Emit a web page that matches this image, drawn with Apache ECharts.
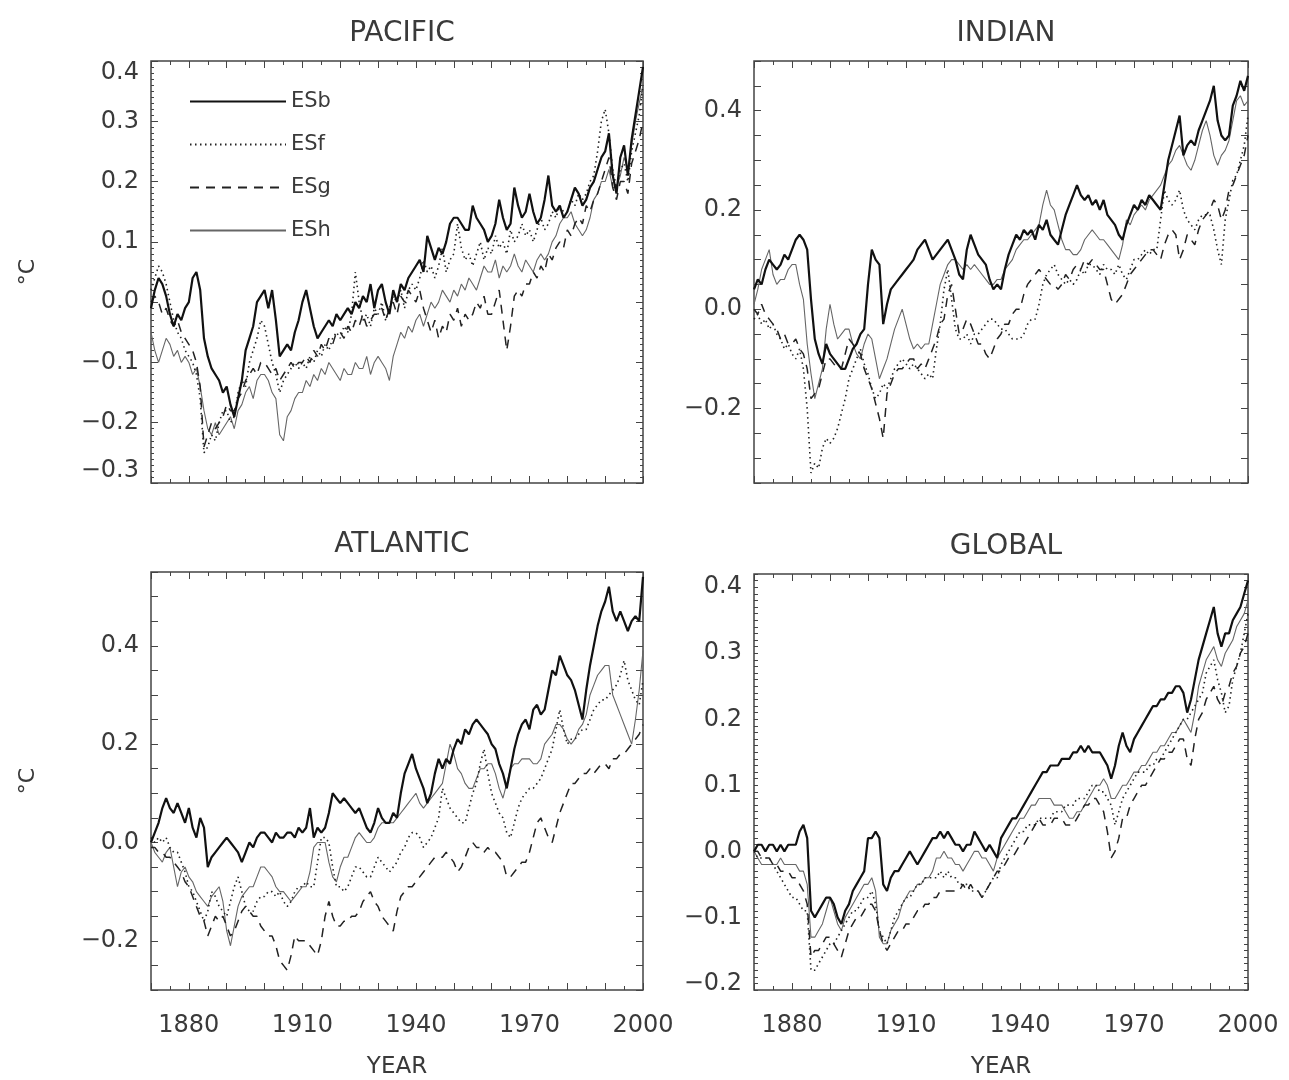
<html lang="en">
<head>
  <meta charset="UTF-8">
  <title>SST anomalies</title>
  <style>
    * { margin: 0; padding: 0; }
    body { background: #fff; }
    #main { width: 1289px; height: 1080px; }
  </style>
</head>
<body>
  <div id="main"></div>
  <script src="https://cdn.jsdelivr.net/npm/echarts@6.0.0/dist/echarts.min.js"></script>
  <script type="text/javascript">
  // years 1870 .. 2000, one value per year
  var years = [];
  for (var y = 1870; y <= 2000; y++) years.push(y);

  var names = ['ESb', 'ESf', 'ESg', 'ESh'];
  var xTicks = [1880, 1910, 1940, 1970, 2000];

  // PACIFIC
  var pacESb = [
    -0.01, 0.02, 0.04, 0.03, 0.01, -0.02, -0.04, -0.02, -0.03, -0.01,
    0.00, 0.04, 0.05, 0.02, -0.06, -0.09, -0.11, -0.12, -0.13, -0.15,
    -0.14, -0.17, -0.19, -0.16, -0.13, -0.08, -0.06, -0.04, 0.00, 0.01,
    0.02, -0.01, 0.02, -0.03, -0.09, -0.08, -0.07, -0.08, -0.05, -0.03,
    0.00, 0.02, -0.01, -0.04, -0.06, -0.05, -0.04, -0.03, -0.04, -0.02,
    -0.03, -0.02, -0.01, -0.02, 0.00, -0.01, 0.01, 0.00, 0.03, -0.01,
    0.02, 0.03, 0.00, -0.02, 0.02, 0.00, 0.03, 0.02, 0.04, 0.05,
    0.06, 0.07, 0.05, 0.11, 0.09, 0.07, 0.09, 0.08, 0.10, 0.13,
    0.14, 0.14, 0.13, 0.12, 0.12, 0.16, 0.14, 0.13, 0.12, 0.10,
    0.11, 0.13, 0.17, 0.14, 0.12, 0.13, 0.19, 0.16, 0.14, 0.15,
    0.18, 0.15, 0.13, 0.14, 0.17, 0.21, 0.16, 0.15, 0.16, 0.14,
    0.15, 0.17, 0.19, 0.18, 0.16, 0.17, 0.19, 0.20, 0.22, 0.24,
    0.25, 0.28, 0.21, 0.18, 0.24, 0.26, 0.21, 0.27, 0.31, 0.35,
    0.39
  ];
  var pacESf = [
    0.02, 0.04, 0.06, 0.05, 0.03, 0.00, -0.03, -0.05, -0.06, -0.08,
    -0.09, -0.10, -0.12, -0.16, -0.25, -0.24, -0.22, -0.23, -0.20, -0.18,
    -0.18, -0.20, -0.19, -0.15, -0.13, -0.14, -0.10, -0.08, -0.06, -0.03,
    -0.04, -0.07, -0.10, -0.12, -0.15, -0.13, -0.12, -0.11, -0.10, -0.11,
    -0.10, -0.11, -0.09, -0.10, -0.08, -0.09, -0.07, -0.08, -0.06, -0.05,
    -0.06, -0.04, -0.05, -0.02, 0.05, 0.00, -0.03, -0.02, -0.04, -0.01,
    -0.02, 0.00, -0.03, -0.01, 0.01, 0.00, 0.02, -0.01, 0.02, 0.03,
    0.02, 0.04, 0.07, 0.05, 0.06, 0.04, 0.06, 0.09, 0.05, 0.07,
    0.08, 0.13, 0.09, 0.07, 0.08, 0.06, 0.08, 0.10, 0.07, 0.09,
    0.08, 0.11, 0.09, 0.10, 0.08, 0.12, 0.10, 0.11, 0.13, 0.11,
    0.12, 0.10, 0.12, 0.14, 0.12, 0.13, 0.15, 0.14, 0.16, 0.15,
    0.15, 0.17, 0.16, 0.18, 0.17, 0.18, 0.20, 0.21, 0.25, 0.30,
    0.32, 0.28, 0.22, 0.19, 0.22, 0.23, 0.20, 0.25, 0.28, 0.31,
    0.36
  ];
  var pacESg = [
    0.00, 0.01, 0.00, -0.02, -0.01, -0.03, -0.04, -0.03, -0.05, -0.06,
    -0.07, -0.08, -0.10, -0.14, -0.24, -0.22, -0.20, -0.21, -0.20, -0.19,
    -0.17, -0.18, -0.18, -0.16, -0.15, -0.13, -0.12, -0.11, -0.12, -0.10,
    -0.10, -0.11, -0.12, -0.11, -0.13, -0.12, -0.11, -0.10, -0.11, -0.10,
    -0.10, -0.09, -0.10, -0.08, -0.09, -0.07, -0.08, -0.06, -0.07, -0.05,
    -0.05, -0.06, -0.04, -0.05, -0.03, -0.04, -0.02, -0.04, -0.03, -0.02,
    -0.02, -0.01, -0.03, -0.01, 0.00, -0.02, 0.01, 0.00, 0.02, 0.01,
    0.00, 0.02, -0.01, -0.03, -0.05, -0.03, -0.06, -0.04, -0.05, -0.02,
    -0.03, -0.01, -0.04, -0.02, -0.03, -0.02, 0.00, -0.01, 0.01, -0.02,
    -0.02, 0.00, 0.02, -0.03, -0.08, -0.04, 0.01, 0.02, 0.01, 0.03,
    0.03, 0.05, 0.04, 0.06, 0.05, 0.08, 0.07, 0.09, 0.10, 0.09,
    0.12, 0.11, 0.13, 0.14, 0.13, 0.16, 0.15, 0.17, 0.18, 0.20,
    0.22, 0.24, 0.19, 0.17, 0.20, 0.20, 0.18, 0.23, 0.25, 0.27,
    0.30
  ];
  var pacESh = [
    -0.05, -0.08, -0.10, -0.08, -0.06, -0.07, -0.09, -0.08, -0.10, -0.09,
    -0.10, -0.12, -0.11, -0.14, -0.18, -0.21, -0.22, -0.20, -0.22, -0.21,
    -0.20, -0.19, -0.21, -0.18, -0.17, -0.15, -0.14, -0.16, -0.13, -0.12,
    -0.12, -0.13, -0.15, -0.16, -0.22, -0.23, -0.19, -0.18, -0.16, -0.15,
    -0.15, -0.13, -0.14, -0.12, -0.13, -0.11, -0.12, -0.10, -0.11, -0.12,
    -0.13, -0.11, -0.12, -0.12, -0.10, -0.11, -0.11, -0.09, -0.12, -0.10,
    -0.09, -0.10, -0.11, -0.13, -0.09, -0.07, -0.05, -0.06, -0.04, -0.05,
    -0.03, -0.02, -0.04, -0.02, 0.00, -0.01, 0.00, 0.02, 0.01, 0.00,
    0.02, 0.01, 0.03, 0.02, 0.04, 0.03, 0.02, 0.04, 0.06, 0.05,
    0.05, 0.07, 0.04, 0.06, 0.05, 0.06, 0.08, 0.06, 0.05, 0.07,
    0.06, 0.05, 0.07, 0.08, 0.07, 0.08, 0.10, 0.11, 0.13, 0.14,
    0.14, 0.15, 0.13, 0.12, 0.11, 0.12, 0.14, 0.17, 0.18, 0.20,
    0.20, 0.22, 0.19, 0.19, 0.21, 0.24, 0.22, 0.26, 0.30, 0.33,
    0.36
  ];

  // INDIAN
  var indESb = [
    0.04, 0.06, 0.05, 0.08, 0.10, 0.09, 0.08, 0.09, 0.11, 0.10,
    0.12, 0.14, 0.15, 0.14, 0.12, 0.02, -0.06, -0.09, -0.11, -0.07,
    -0.09, -0.10, -0.11, -0.12, -0.12, -0.10, -0.08, -0.07, -0.05, -0.04,
    0.05, 0.12, 0.10, 0.09, -0.03, 0.01, 0.04, 0.05, 0.06, 0.07,
    0.08, 0.09, 0.10, 0.12, 0.13, 0.14, 0.12, 0.10, 0.11, 0.12,
    0.13, 0.14, 0.12, 0.10, 0.07, 0.06, 0.12, 0.15, 0.13, 0.11,
    0.10, 0.09, 0.06, 0.04, 0.05, 0.04, 0.08, 0.11, 0.13, 0.15,
    0.14, 0.16, 0.15, 0.16, 0.14, 0.17, 0.16, 0.18, 0.15, 0.14,
    0.13, 0.16, 0.19, 0.21, 0.23, 0.25, 0.23, 0.22, 0.23, 0.21,
    0.22, 0.20, 0.22, 0.19, 0.18, 0.17, 0.15, 0.14, 0.17, 0.19,
    0.21, 0.20, 0.22, 0.21, 0.23, 0.22, 0.21, 0.20, 0.25, 0.30,
    0.33, 0.36, 0.39, 0.31, 0.33, 0.34, 0.33, 0.36, 0.38, 0.40,
    0.42, 0.45, 0.38, 0.35, 0.34, 0.35, 0.41, 0.43, 0.46, 0.44,
    0.47
  ];
  var indESf = [
    -0.02, -0.01, -0.03, -0.02, -0.04, -0.03, -0.05, -0.06, -0.08, -0.07,
    -0.09, -0.10, -0.08, -0.12, -0.20, -0.33, -0.31, -0.32, -0.28, -0.26,
    -0.27, -0.26, -0.24, -0.21, -0.18, -0.14, -0.12, -0.10, -0.08, -0.11,
    -0.13, -0.16, -0.18, -0.17, -0.15, -0.16, -0.14, -0.12, -0.11, -0.10,
    -0.11, -0.12, -0.11, -0.12, -0.13, -0.14, -0.13, -0.14, -0.08, -0.03,
    0.04, 0.08, 0.02, -0.04, -0.06, -0.06, -0.05, -0.07, -0.05, -0.05,
    -0.04, -0.03, -0.02, -0.02, -0.03, -0.04, -0.04, -0.05, -0.06, -0.06,
    -0.06, -0.05, -0.03, -0.02, -0.02, 0.01, 0.05, 0.07, 0.08, 0.09,
    0.07, 0.06, 0.05, 0.06, 0.05, 0.06, 0.08, 0.07, 0.09, 0.09,
    0.08, 0.07, 0.09, 0.08, 0.08, 0.07, 0.09, 0.07, 0.06, 0.08,
    0.10, 0.10, 0.11, 0.12, 0.11, 0.12, 0.12, 0.18, 0.24, 0.22,
    0.21, 0.22, 0.24, 0.20, 0.18, 0.17, 0.16, 0.18, 0.19, 0.19,
    0.19, 0.16, 0.12, 0.09, 0.18, 0.22, 0.26, 0.27, 0.30, 0.33,
    0.39
  ];
  var indESg = [
    0.00, -0.01, 0.01, -0.01, -0.02, -0.03, -0.04, -0.06, -0.05, -0.07,
    -0.07, -0.06, -0.08, -0.09, -0.12, -0.18, -0.17, -0.16, -0.13, -0.10,
    -0.10, -0.11, -0.12, -0.12, -0.09, -0.06, -0.07, -0.08, -0.09, -0.12,
    -0.14, -0.16, -0.19, -0.22, -0.26, -0.17, -0.15, -0.13, -0.12, -0.12,
    -0.11, -0.10, -0.10, -0.12, -0.11, -0.12, -0.10, -0.08, -0.06, -0.03,
    -0.02, 0.03, 0.05, 0.00, -0.05, -0.04, -0.02, -0.03, -0.05, -0.07,
    -0.07, -0.09, -0.10, -0.08, -0.06, -0.05, -0.03, -0.03, -0.01, 0.00,
    0.00, 0.03, 0.05, 0.06, 0.07, 0.08, 0.07, 0.06, 0.05, 0.05,
    0.04, 0.05, 0.07, 0.06, 0.08, 0.09, 0.08, 0.10, 0.09, 0.10,
    0.09, 0.08, 0.08, 0.05, 0.02, 0.01, 0.02, 0.03, 0.05, 0.07,
    0.08, 0.09, 0.10, 0.11, 0.12, 0.12, 0.11, 0.10, 0.13, 0.15,
    0.16, 0.15, 0.10, 0.12, 0.15, 0.14, 0.13, 0.16, 0.18, 0.19,
    0.20, 0.22, 0.21, 0.18, 0.20, 0.24, 0.25, 0.27, 0.29, 0.31,
    0.35
  ];
  var indESh = [
    0.01, 0.04, 0.08, 0.10, 0.12, 0.07, 0.05, 0.06, 0.06, 0.08,
    0.09, 0.09, 0.05, 0.02, -0.07, -0.13, -0.18, -0.15, -0.12, -0.04,
    0.01, -0.03, -0.06, -0.05, -0.04, -0.04, -0.07, -0.09, -0.10, -0.07,
    -0.05, -0.06, -0.10, -0.14, -0.12, -0.10, -0.07, -0.04, -0.02, 0.00,
    -0.03, -0.06, -0.08, -0.07, -0.08, -0.07, -0.07, -0.03, 0.01, 0.05,
    0.07, 0.09, 0.10, 0.10, 0.09, 0.08, 0.09, 0.08, 0.09, 0.08,
    0.07, 0.06, 0.05, 0.05, 0.06, 0.06, 0.08, 0.09, 0.10, 0.12,
    0.13, 0.14, 0.14, 0.15, 0.16, 0.17, 0.21, 0.24, 0.21, 0.20,
    0.17, 0.14, 0.12, 0.12, 0.11, 0.11, 0.12, 0.14, 0.15, 0.16,
    0.15, 0.14, 0.14, 0.13, 0.12, 0.11, 0.10, 0.13, 0.18, 0.17,
    0.19, 0.20, 0.21, 0.20, 0.22, 0.23, 0.24, 0.25, 0.27, 0.29,
    0.30, 0.32, 0.33, 0.31, 0.29, 0.28, 0.30, 0.33, 0.36, 0.38,
    0.35, 0.31, 0.29, 0.31, 0.32, 0.34, 0.38, 0.42, 0.43, 0.41,
    0.42
  ];

  // ATLANTIC
  var atlESb = [
    0.00, 0.02, 0.04, 0.07, 0.09, 0.07, 0.06, 0.08, 0.06, 0.04,
    0.07, 0.03, 0.01, 0.05, 0.03, -0.05, -0.03, -0.02, -0.01, 0.00,
    0.01, 0.00, -0.01, -0.02, -0.04, -0.02, 0.00, -0.01, 0.01, 0.02,
    0.02, 0.01, 0.00, 0.02, 0.01, 0.01, 0.02, 0.02, 0.01, 0.03,
    0.02, 0.03, 0.07, 0.01, 0.03, 0.02, 0.03, 0.06, 0.10, 0.09,
    0.08, 0.09, 0.08, 0.07, 0.06, 0.07, 0.05, 0.03, 0.02, 0.04,
    0.07, 0.05, 0.04, 0.04, 0.06, 0.05, 0.10, 0.14, 0.16, 0.18,
    0.15, 0.13, 0.11, 0.08, 0.10, 0.14, 0.17, 0.15, 0.17, 0.16,
    0.19, 0.21, 0.20, 0.23, 0.22, 0.24, 0.25, 0.24, 0.23, 0.22,
    0.20, 0.19, 0.16, 0.14, 0.11, 0.15, 0.19, 0.22, 0.24, 0.25,
    0.23, 0.27, 0.28, 0.26, 0.27, 0.31, 0.35, 0.34, 0.38, 0.36,
    0.34, 0.33, 0.31, 0.28, 0.25, 0.31, 0.36, 0.40, 0.44, 0.47,
    0.49, 0.52, 0.47, 0.45, 0.47, 0.45, 0.43, 0.45, 0.46, 0.45,
    0.54
  ];
  var atlESf = [
    0.01, 0.00, 0.01, 0.00, 0.01, -0.01, -0.02, -0.02, -0.04, -0.06,
    -0.09, -0.10, -0.12, -0.14, -0.16, -0.14, -0.10, -0.11, -0.13, -0.14,
    -0.15, -0.12, -0.09, -0.07, -0.10, -0.13, -0.14, -0.14, -0.12, -0.11,
    -0.11, -0.10, -0.10, -0.11, -0.10, -0.12, -0.13, -0.12, -0.10, -0.09,
    -0.09, -0.08, -0.09, -0.09, -0.04, 0.01, 0.01, 0.00, -0.05, -0.09,
    -0.09, -0.10, -0.09, -0.07, -0.05, -0.05, -0.06, -0.07, -0.07, -0.05,
    -0.03, -0.04, -0.05, -0.06, -0.05, -0.04, -0.02, -0.01, 0.01, 0.02,
    0.02, 0.01, -0.01, 0.00, 0.01, 0.03, 0.05, 0.11, 0.09, 0.07,
    0.06, 0.05, 0.04, 0.04, 0.07, 0.10, 0.12, 0.16, 0.19, 0.14,
    0.10, 0.08, 0.06, 0.05, 0.02, 0.01, 0.04, 0.07, 0.09, 0.10,
    0.11, 0.11, 0.12, 0.13, 0.15, 0.17, 0.19, 0.23, 0.27, 0.23,
    0.20, 0.21, 0.21, 0.22, 0.23, 0.23, 0.25, 0.27, 0.28, 0.29,
    0.29, 0.30, 0.31, 0.32, 0.34, 0.37, 0.33, 0.31, 0.29, 0.28,
    0.33
  ];
  var atlESg = [
    -0.01, -0.01, -0.02, -0.02, -0.03, -0.03, -0.04, -0.05, -0.06, -0.08,
    -0.09, -0.11, -0.13, -0.15, -0.16, -0.19, -0.17, -0.15, -0.16, -0.15,
    -0.17, -0.19, -0.18, -0.16, -0.14, -0.13, -0.14, -0.15, -0.15, -0.17,
    -0.18, -0.19, -0.19, -0.21, -0.24, -0.25, -0.26, -0.23, -0.19, -0.20,
    -0.20, -0.20, -0.21, -0.22, -0.23, -0.20, -0.15, -0.12, -0.15, -0.17,
    -0.17, -0.16, -0.16, -0.15, -0.15, -0.14, -0.12, -0.11, -0.10, -0.12,
    -0.13, -0.15, -0.16, -0.17, -0.18, -0.14, -0.11, -0.10, -0.09, -0.09,
    -0.08, -0.07, -0.06, -0.05, -0.04, -0.03, -0.03, -0.03, -0.02, -0.03,
    -0.04, -0.06, -0.05, -0.03, -0.01, 0.00, -0.01, -0.01, -0.02, -0.01,
    -0.02, -0.02, -0.03, -0.04, -0.07, -0.07, -0.06, -0.05, -0.04, -0.04,
    -0.02, 0.01, 0.04, 0.05, 0.03, 0.01, 0.00, 0.03, 0.06, 0.08,
    0.10, 0.12, 0.12, 0.13, 0.14, 0.14, 0.15, 0.14, 0.15, 0.16,
    0.16, 0.15, 0.17, 0.17, 0.18, 0.18, 0.19, 0.20, 0.21, 0.22,
    0.24
  ];
  var atlESh = [
    0.00, -0.02, -0.03, -0.04, -0.02, -0.01, -0.05, -0.09, -0.06, -0.05,
    -0.07, -0.08, -0.10, -0.11, -0.12, -0.13, -0.11, -0.10, -0.09, -0.12,
    -0.18, -0.21, -0.17, -0.13, -0.11, -0.10, -0.09, -0.09, -0.07, -0.05,
    -0.05, -0.06, -0.07, -0.09, -0.10, -0.10, -0.11, -0.12, -0.11, -0.10,
    -0.09, -0.09, -0.06, -0.01, 0.00, 0.00, 0.00, -0.04, -0.07, -0.08,
    -0.05, -0.03, -0.03, -0.01, 0.01, 0.02, 0.01, 0.00, 0.00, 0.01,
    0.03, 0.04, 0.04, 0.04, 0.04, 0.05, 0.06, 0.07, 0.08, 0.09,
    0.10, 0.08, 0.07, 0.08, 0.09, 0.10, 0.11, 0.12, 0.16, 0.20,
    0.18, 0.15, 0.14, 0.12, 0.11, 0.11, 0.13, 0.15, 0.15, 0.16,
    0.16, 0.14, 0.11, 0.09, 0.12, 0.15, 0.16, 0.16, 0.17, 0.17,
    0.17, 0.16, 0.16, 0.17, 0.20, 0.21, 0.22, 0.24, 0.24, 0.23,
    0.21, 0.20, 0.21, 0.23, 0.24, 0.26, 0.30, 0.32, 0.34, 0.35,
    0.36, 0.36, 0.30, 0.28, 0.26, 0.24, 0.22, 0.20, 0.25, 0.31,
    0.39
  ];

  // GLOBAL
  var gloESb = [
    0.00, 0.01, 0.01, 0.00, 0.01, 0.01, 0.00, 0.01, 0.00, 0.01,
    0.01, 0.01, 0.03, 0.04, 0.02, -0.09, -0.10, -0.09, -0.08, -0.07,
    -0.07, -0.08, -0.10, -0.11, -0.09, -0.08, -0.06, -0.05, -0.04, -0.03,
    0.02, 0.02, 0.03, 0.02, -0.05, -0.06, -0.04, -0.03, -0.03, -0.02,
    -0.01, 0.00, -0.01, -0.02, -0.01, 0.00, 0.01, 0.02, 0.02, 0.03,
    0.02, 0.03, 0.02, 0.01, 0.01, 0.00, 0.01, 0.01, 0.03, 0.02,
    0.01, 0.00, 0.01, 0.00, -0.01, 0.02, 0.03, 0.04, 0.05, 0.05,
    0.06, 0.07, 0.08, 0.09, 0.10, 0.11, 0.12, 0.12, 0.13, 0.13,
    0.13, 0.14, 0.14, 0.14, 0.15, 0.15, 0.16, 0.15, 0.16, 0.15,
    0.15, 0.15, 0.14, 0.13, 0.11, 0.13, 0.16, 0.18, 0.16, 0.15,
    0.17, 0.18, 0.19, 0.20, 0.21, 0.22, 0.22, 0.23, 0.23, 0.24,
    0.24, 0.25, 0.25, 0.24, 0.21, 0.23, 0.26, 0.29, 0.31, 0.33,
    0.35, 0.37, 0.33, 0.31, 0.33, 0.33, 0.35, 0.36, 0.37, 0.39,
    0.41
  ];
  var gloESf = [
    0.00, -0.01, -0.01, -0.01, -0.01, -0.02, -0.03, -0.04, -0.05, -0.06,
    -0.07, -0.07, -0.08, -0.09, -0.09, -0.18, -0.18, -0.17, -0.16, -0.15,
    -0.14, -0.14, -0.13, -0.12, -0.11, -0.10, -0.09, -0.09, -0.08, -0.07,
    -0.07, -0.06, -0.08, -0.12, -0.13, -0.14, -0.12, -0.10, -0.09, -0.08,
    -0.07, -0.07, -0.06, -0.05, -0.05, -0.04, -0.04, -0.04, -0.04, -0.03,
    -0.04, -0.03, -0.04, -0.04, -0.05, -0.05, -0.05, -0.06, -0.06, -0.06,
    -0.07, -0.06, -0.05, -0.04, -0.04, -0.02, -0.01, 0.00, 0.01, 0.02,
    0.03, 0.03, 0.04, 0.04, 0.04, 0.05, 0.05, 0.05, 0.05, 0.06,
    0.06, 0.06, 0.07, 0.07, 0.07, 0.08, 0.08, 0.08, 0.09, 0.10,
    0.10, 0.09, 0.09, 0.08, 0.07, 0.04, 0.06, 0.08, 0.09, 0.10,
    0.11, 0.12, 0.12, 0.12, 0.13, 0.13, 0.14, 0.14, 0.15, 0.16,
    0.17, 0.18, 0.19, 0.20, 0.20, 0.21, 0.22, 0.23, 0.24, 0.27,
    0.28, 0.29, 0.26, 0.24, 0.21, 0.22, 0.26, 0.28, 0.30, 0.33,
    0.36
  ];
  var gloESg = [
    0.00, 0.00, -0.01, -0.01, -0.01, -0.02, -0.02, -0.03, -0.03, -0.03,
    -0.04, -0.04, -0.05, -0.06, -0.08, -0.16, -0.15, -0.15, -0.14, -0.13,
    -0.13, -0.14, -0.15, -0.16, -0.14, -0.12, -0.11, -0.10, -0.10, -0.09,
    -0.08, -0.08, -0.09, -0.12, -0.14, -0.15, -0.14, -0.13, -0.12, -0.12,
    -0.11, -0.11, -0.10, -0.09, -0.09, -0.08, -0.08, -0.07, -0.07, -0.06,
    -0.06, -0.06, -0.06, -0.06, -0.06, -0.05, -0.06, -0.05, -0.06, -0.06,
    -0.07, -0.06, -0.05, -0.04, -0.03, -0.03, -0.02, -0.01, -0.01, 0.00,
    0.01, 0.01, 0.02, 0.03, 0.04, 0.05, 0.04, 0.04, 0.04, 0.05,
    0.05, 0.05, 0.04, 0.04, 0.04, 0.05, 0.06, 0.07, 0.07, 0.08,
    0.08, 0.07, 0.06, 0.03, -0.01, 0.00, 0.02, 0.05, 0.05, 0.07,
    0.08, 0.09, 0.10, 0.10, 0.11, 0.12, 0.13, 0.14, 0.14, 0.15,
    0.15, 0.16, 0.17, 0.17, 0.14, 0.13, 0.17, 0.20, 0.21, 0.23,
    0.24, 0.25, 0.23, 0.22, 0.24, 0.25, 0.27, 0.28, 0.30, 0.31,
    0.33
  ];
  var gloESh = [
    0.00, -0.01, -0.02, -0.02, -0.02, -0.02, -0.02, -0.01, -0.02, -0.02,
    -0.02, -0.02, -0.03, -0.03, -0.05, -0.13, -0.13, -0.12, -0.11, -0.09,
    -0.07, -0.09, -0.11, -0.12, -0.10, -0.09, -0.08, -0.07, -0.06, -0.05,
    -0.05, -0.04, -0.06, -0.13, -0.14, -0.14, -0.12, -0.11, -0.10, -0.08,
    -0.07, -0.06, -0.06, -0.05, -0.05, -0.04, -0.04, -0.03, -0.01, -0.01,
    0.00, -0.01, -0.01, -0.02, -0.02, -0.03, -0.02, -0.01, 0.00, 0.00,
    -0.01, -0.01, -0.02, -0.03, -0.01, 0.00, 0.01, 0.02, 0.03, 0.04,
    0.05, 0.05, 0.06, 0.07, 0.07, 0.08, 0.08, 0.08, 0.08, 0.07,
    0.07, 0.07, 0.06, 0.05, 0.05, 0.06, 0.06, 0.07, 0.08, 0.09,
    0.10, 0.10, 0.11, 0.10, 0.08, 0.08, 0.09, 0.10, 0.10, 0.11,
    0.12, 0.12, 0.13, 0.13, 0.14, 0.15, 0.15, 0.16, 0.16, 0.17,
    0.18, 0.18, 0.19, 0.20, 0.19, 0.18, 0.21, 0.25, 0.27, 0.29,
    0.30, 0.31, 0.29, 0.28, 0.30, 0.31, 0.32, 0.34, 0.35, 0.36,
    0.38
  ];

  var panels = [
    { title: 'PACIFIC',  data: [pacESb, pacESf, pacESg, pacESh], min: -0.3,  max: 0.4,  step: 0.1,  every: 10, left: 151, top: 61,  w: 492, h: 422, xlab: false, yname: true },
    { title: 'INDIAN',   data: [indESb, indESf, indESg, indESh], min: -0.35, max: 0.5,  step: 0.05, every: 20, left: 754, top: 61,  w: 494, h: 422, xlab: false, yname: false },
    { title: 'ATLANTIC', data: [atlESb, atlESf, atlESg, atlESh], min: -0.3,  max: 0.55, step: 0.05, every: 20, left: 151, top: 572, w: 492, h: 422, xlab: true,  yname: true },
    { title: 'GLOBAL',   data: [gloESb, gloESf, gloESg, gloESh], min: -0.21, max: 0.42, step: 0.01, every: 10, left: 754, top: 574, w: 494, h: 419, xlab: true,  yname: false }
  ];

  var lineStyles = [
    { color: '#111', width: 2.2, type: 'solid' },
    { color: '#222', width: 1.6, type: [1.5, 3.5] },
    { color: '#222', width: 1.5, type: [9, 7] },
    { color: '#666', width: 1.1, type: 'solid' }
  ];

  var txt = '#3a3a3a';
  var font = 'DejaVu Sans';

  function yLabel(every) {
    return function (v) {
      var k = Math.round(v * 100);
      if (k % every !== 0) return '';
      return (k / 100).toFixed(1).replace('-', '\u2212');
    };
  }

  var grid = [], xAxis = [], yAxis = [], series = [], title = [];

  panels.forEach(function (p, i) {
    grid.push({ left: p.left, top: p.top, width: p.w, height: p.h, show: true,
      borderColor: '#444', borderWidth: 1.5, backgroundColor: 'transparent' });

    title.push({ text: p.title, left: p.left + p.w / 2, top: p.top - 46, textAlign: 'center',
      textStyle: { fontFamily: font, fontWeight: 'normal', fontSize: 28, color: txt } });

    var tickX = { show: true, inside: true, length: 7, lineStyle: { color: '#444' } };
    var minorX = { show: true, splitNumber: 2, length: 4, lineStyle: { color: '#444' } };
    // bottom and top x axes
    xAxis.push({
      type: 'value', gridIndex: i, position: 'bottom', min: 1870, max: 2000, interval: 10,
      axisLine: { show: false, onZero: false }, splitLine: { show: false },
      axisTick: tickX, minorTick: minorX,
      axisLabel: { show: p.xlab, margin: 24, fontFamily: font, fontSize: 24, color: txt,
        formatter: function (v) { return xTicks.indexOf(v) >= 0 ? String(v) : ''; } },
      name: p.xlab ? 'YEAR' : '', nameLocation: 'middle', nameGap: 66,
      nameTextStyle: { fontFamily: font, fontSize: 23, color: txt }
    });
    xAxis.push({
      type: 'value', gridIndex: i, position: 'top', min: 1870, max: 2000, interval: 10,
      axisLine: { show: false, onZero: false }, splitLine: { show: false },
      axisTick: tickX, minorTick: minorX, axisLabel: { show: false }
    });

    var tickY = { show: true, inside: true, length: p.step === 0.01 ? 4 : 7, lineStyle: { color: '#444' } };
    var minorY = { show: p.step === 0.1, splitNumber: 10, length: 3, lineStyle: { color: '#444' } };
    var yLab = { margin: 12, fontFamily: font, fontSize: 24, color: txt, formatter: yLabel(p.every) };
    if (i === 0) {
      // end labels of the Pacific axis sit inside the box, as in the original
      yLab.verticalAlignMaxLabel = 'top';
      yLab.verticalAlignMinLabel = 'bottom';
    }
    yAxis.push({
      type: 'value', gridIndex: i, position: 'left', min: p.min, max: p.max, interval: p.step,
      axisLine: { show: false, onZero: false }, splitLine: { show: false },
      axisTick: tickY, minorTick: minorY,
      axisLabel: yLab,
      name: p.yname ? '\u00B0C' : '', nameLocation: 'middle', nameGap: 112, nameRotate: 90,
      nameTextStyle: { fontFamily: font, fontSize: 22, color: txt }
    });
    yAxis.push({
      type: 'value', gridIndex: i, position: 'right', min: p.min, max: p.max, interval: p.step,
      axisLine: { show: false, onZero: false }, splitLine: { show: false },
      axisTick: tickY, minorTick: minorY, axisLabel: { show: false }
    });

    p.data.forEach(function (vals, j) {
      series.push({
        name: names[j], type: 'line', xAxisIndex: 2 * i, yAxisIndex: 2 * i,
        showSymbol: false, symbol: 'none', silent: true,
        lineStyle: lineStyles[j],
        itemStyle: { color: lineStyles[j].color },
        data: years.map(function (yr, k) { return [yr, vals[k]]; }),
        z: 10 - j
      });
    });
  });

  var myChart = echarts.init(document.getElementById('main'));
  var option = {
    animation: false,
    backgroundColor: '#fff',
    title: title,
    legend: {
      data: names, orient: 'vertical', left: 184, top: 86,
      itemWidth: 96, itemHeight: 14, itemGap: 22, selectedMode: false,
      itemStyle: { opacity: 0, color: 'transparent', borderWidth: 0 },
      textStyle: { fontFamily: font, fontSize: 21, color: txt, padding: [0, 0, 14, 0] }
    },
    grid: grid,
    xAxis: xAxis,
    yAxis: yAxis,
    series: series
  };
  myChart.setOption(option);
  </script>
</body>
</html>
